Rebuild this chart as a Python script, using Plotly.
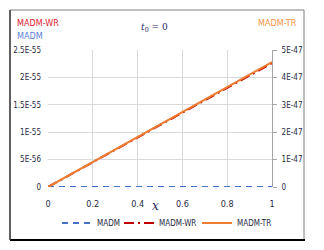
import plotly.graph_objects as go

x_vals = [0, 0.1, 0.2, 0.3, 0.4, 0.5, 0.6, 0.7, 0.8, 0.9, 1.0]
madm = [0, 0, 0, 0, 0, 0, 0, 0, 0, 0, 0]
madm_wr = [0, 0.226e-55, 0.452e-55, 0.678e-55, 0.904e-55, 1.13e-55,
           1.356e-55, 1.582e-55, 1.808e-55, 2.034e-55, 2.26e-55]
madm_tr = [0, 0.456e-47, 0.912e-47, 1.368e-47, 1.824e-47, 2.28e-47,
           2.736e-47, 3.192e-47, 3.648e-47, 4.104e-47, 4.56e-47]

x_ticks = [0, 0.2, 0.4, 0.6, 0.8, 1]
x_tick_text = ["0", "0.2", "0.4", "0.6", "0.8", "1"]
left_ticks = [0, 0.5e-55, 1e-55, 1.5e-55, 2e-55, 2.5e-55]
left_tick_text = ["0", "5E-56", "1E-55", "1.5E-55", "2E-55", "2.5E-55"]
right_ticks = [0, 1e-47, 2e-47, 3e-47, 4e-47, 5e-47]
right_tick_text = ["0", "1E-47", "2E-47", "3E-47", "4E-47", "5E-47"]

FONT = "DejaVu Sans Condensed, Liberation Sans Narrow, Arial, sans-serif"
TXT = "#1F2A44"

L, R, T, B = 48, 272, 50, 187
W, H = R - L, B - T


def px(xp):
    return (xp - L) / W


def py(yp):
    return (B - yp) / H


fig = go.Figure()
fig.add_trace(go.Scatter(x=x_vals, y=madm, name="MADM", mode="lines", legendwidth=17,
                         line=dict(color="#4472C4", width=2, dash="6px,5px")))
fig.add_trace(go.Scatter(x=x_vals, y=madm_wr, name="MADM-WR", mode="lines", legendwidth=33,
                         line=dict(color="#C00000", width=2, dash="10px,4px,2px,4px")))
fig.add_trace(go.Scatter(x=x_vals, y=madm_tr, name="MADM-TR", mode="lines", yaxis="y2",
                         legendwidth=40, line=dict(color="#ED7D31", width=2)))

fig.update_layout(
    width=324, height=250,
    margin=dict(l=L, r=324 - R, t=T, b=250 - B, autoexpand=False),
    paper_bgcolor="white", plot_bgcolor="white",
    font=dict(family=FONT, size=8, color=TXT),
    showlegend=True,
    legend=dict(orientation="h", xref="paper", yref="container",
                x=px(57), xanchor="left", y=1 - 223 / 250, yanchor="middle",
                font=dict(family=FONT, size=8, color=TXT), itemwidth=30,
                tracegroupgap=0, traceorder="normal", bgcolor="rgba(0,0,0,0)"),
    xaxis=dict(range=[0, 1], tickvals=x_ticks, ticktext=x_tick_text,
               showgrid=True, gridcolor="#D9D9D9", gridwidth=1,
               zeroline=False, showline=False, ticks="", ticklabelstandoff=10,
               tickfont=dict(family=FONT, size=9, color=TXT)),
    yaxis=dict(range=[0, 2.5e-55], tickvals=left_ticks, ticktext=left_tick_text,
               showgrid=True, gridcolor="#D9D9D9", gridwidth=1,
               zeroline=False, showline=False, ticks="", ticklabelstandoff=6,
               tickfont=dict(family=FONT, size=8, color=TXT)),
    yaxis2=dict(range=[0, 5e-47], tickvals=right_ticks, ticktext=right_tick_text,
                overlaying="y", side="right", showgrid=False, zeroline=False,
                showline=True, linecolor="#A6A6A6", linewidth=1,
                ticks="outside", ticklen=4, tickcolor="#A6A6A6", ticklabelstandoff=3,
                tickfont=dict(family=FONT, size=8, color=TXT)),
)

fig.add_annotation(text="<i>t</i><sub>0</sub> = 0", xref="paper", yref="paper",
                   x=px(154), y=py(27), xanchor="center", yanchor="middle", showarrow=False,
                   font=dict(family="DejaVu Serif Condensed, DejaVu Serif, serif", size=10, color="#1F1F5F"))
fig.add_annotation(text="<i>x</i>", xref="paper", yref="paper",
                   x=px(155), y=py(206), xanchor="center", yanchor="middle", showarrow=False,
                   font=dict(family="DejaVu Serif, serif", size=12, color="#1F1F5F"))
fig.add_annotation(text="MADM-WR", xref="paper", yref="paper", xanchor="left", yanchor="middle",
                   x=px(15), y=py(23), showarrow=False,
                   font=dict(family=FONT, size=9, color="#E0202F"))
fig.add_annotation(text="MADM", xref="paper", yref="paper", xanchor="left", yanchor="middle",
                   x=px(15), y=py(36), showarrow=False,
                   font=dict(family=FONT, size=9, color="#5B7FD6"))
fig.add_annotation(text="MADM-TR", xref="paper", yref="paper", xanchor="right", yanchor="middle",
                   x=px(299), y=py(23), showarrow=False,
                   font=dict(family=FONT, size=9, color="#F79646"))

# outer chart frame
fig.add_shape(type="rect", xref="paper", yref="paper",
              x0=px(10), x1=px(304), y0=py(240), y1=py(10),
              line=dict(color="#7F7F7F", width=1), layer="above")
fig.add_shape(type="line", xref="paper", yref="paper",
              x0=px(10), x1=px(305), y0=py(240), y1=py(240),
              line=dict(color="#000000", width=2), layer="above")
fig.add_shape(type="line", xref="paper", yref="paper",
              x0=px(10), x1=px(10), y0=py(240), y1=py(10),
              line=dict(color="#404040", width=1.5), layer="above")

fig.write_html("out.html", config={"displayModeBar": False},
               post_script="document.body.style.margin='0';")
